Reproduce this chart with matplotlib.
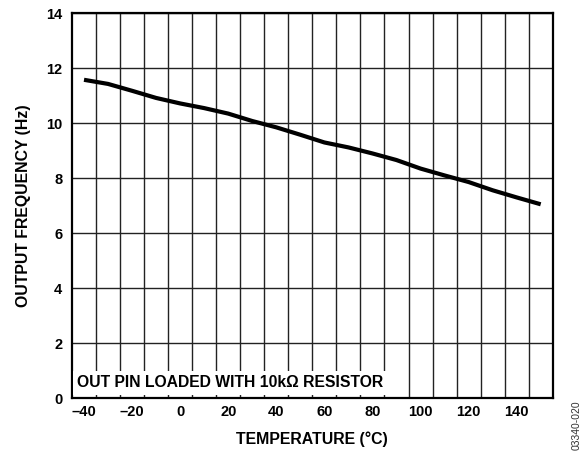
import numpy as np
from matplotlib import pyplot as plt

plt.rcParams['font.family'] = ['Liberation Sans', 'DejaVu Sans']
plt.rcParams['font.weight'] = 'bold'

# temperature (°C) vs output frequency (Hz)
temps = [-40, -30, -20, -10, 0, 10, 20, 30, 40, 50,
         60, 70, 80, 90, 100, 110, 120, 130, 140, 150]
freq = [11.58, 11.43, 11.18, 10.92, 10.72, 10.55, 10.35, 10.08, 9.85, 9.58,
        9.30, 9.12, 8.90, 8.66, 8.35, 8.10, 7.86, 7.56, 7.30, 7.05]

x_ticks = [-40, -20, 0, 20, 40, 60, 80, 100, 120, 140]
x_ticklabels = ['\u201340', '\u201320', '0', '20', '40', '60', '80', '100', '120', '140']
y_ticks = [0, 2, 4, 6, 8, 10, 12, 14]
grid_x = np.arange(-35, 150, 10)

fig = plt.figure(figsize=(5.82, 4.54), dpi=100)
ax = fig.add_axes([0.1237, 0.1233, 0.8260, 0.8474])

ax.set_xlim(-45, 155)
ax.set_ylim(0, 14)

# vertical grid sits between the labelled temperatures
ax.set_xticks(x_ticks)
ax.set_xticklabels(x_ticklabels)
ax.set_xticks(grid_x, minor=True)
ax.set_yticks(y_ticks)
ax.tick_params(which='both', length=0, labelsize=10.5)
ax.tick_params(axis='x', pad=5)
ax.tick_params(axis='y', pad=7)
ax.grid(True, which='minor', axis='x', color='#222222', linewidth=1.0)
ax.grid(True, which='major', axis='y', color='#222222', linewidth=1.0)
ax.set_axisbelow(True)

for sp in ax.spines.values():
    sp.set_linewidth(1.6)
    sp.set_color('black')

ax.plot(temps, freq, color='black', linewidth=3, solid_capstyle='butt', zorder=3)

ax.text(-42.8, 0.28, 'OUT PIN LOADED WITH 10k\u03a9 RESISTOR', fontsize=11.3,
        fontweight='bold', va='bottom', ha='left', zorder=4,
        bbox=dict(facecolor='white', edgecolor='none', pad=3))

ax.set_xlabel('TEMPERATURE (\u00b0C)', fontsize=11.4, fontweight='bold', labelpad=9)
ax.set_ylabel('OUTPUT FREQUENCY (Hz)', fontsize=11.4, fontweight='bold', labelpad=11)

fig.text(0.99, 0.063, '03340-020', rotation=90, fontsize=7.5, fontweight='normal',
         ha='center', va='center', color='#333333')

plt.savefig('out.png', dpi=100)
plt.close()
